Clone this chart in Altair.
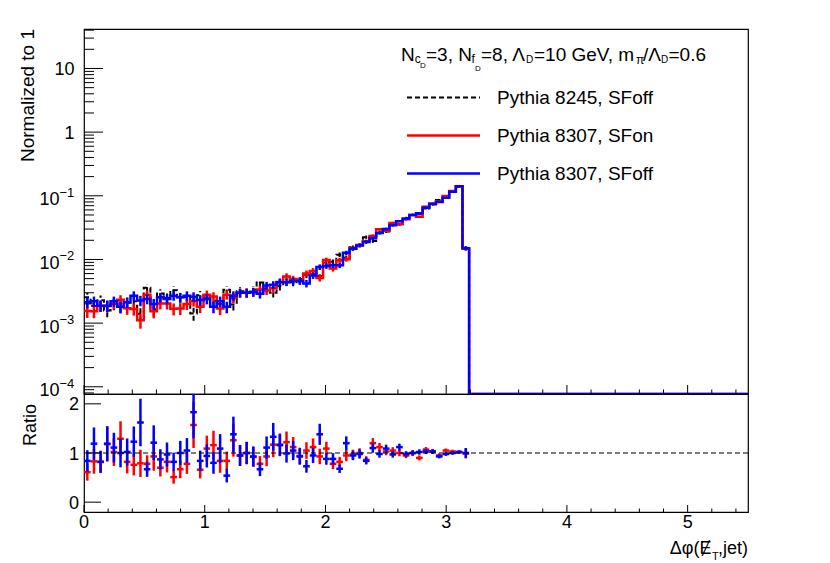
import altair as alt
import numpy as np
import pandas as pd

# ---------------- data ----------------
X_MIN, X_MAX = 0.0, 5.5
BIN_WIDTH = 0.055
N_EVENTS = 13000  # effective statistics used for Poisson error bars

# Pythia 8245, SFoff (black, dashed)
p8245_sfoff = [0.00254, 0.00185, 0.00229, 0.00158, 0.00198, 0.0018, 0.00209, 0.0022, 0.0014, 0.00358,
               0.00165, 0.00292, 0.00247, 0.00329, 0.00254, 0.00257, 0.00142, 0.00274, 0.00255, 0.00225,
               0.00202, 0.00333, 0.00196, 0.00316, 0.0030, 0.00333, 0.00433, 0.00351, 0.00301, 0.00379,
               0.00444, 0.00438, 0.00495, 0.00575, 0.00589, 0.00551, 0.00898, 0.0092, 0.0119, 0.0106,
               0.0155, 0.0168, 0.0224, 0.0195, 0.0265, 0.0275, 0.0356, 0.0357, 0.0449, 0.050,
               0.052, 0.0631, 0.0728, 0.086, 0.0949, 0.116, 0.138, 0.015]
# Pythia 8307, SFon (red)
p8307_sfon = [0.00155, 0.00154, 0.00188, 0.00186, 0.00202, 0.00232, 0.00171, 0.00167, 0.00111, 0.00279,
              0.00153, 0.00204, 0.00203, 0.00168, 0.0017, 0.0020, 0.00223, 0.00181, 0.00278, 0.00261,
              0.0017, 0.0028, 0.00247, 0.0030, 0.0030, 0.00306, 0.00338, 0.00326, 0.00352, 0.00443,
              0.00542, 0.00491, 0.00465, 0.00604, 0.0066, 0.00512, 0.00979, 0.00718, 0.00976, 0.0101,
              0.015, 0.0168, 0.0193, 0.0234, 0.0297, 0.0283, 0.0374, 0.0357, 0.0427, 0.050,
              0.0468, 0.0675, 0.075, 0.0817, 0.0996, 0.119, 0.141, 0.0149]
# Pythia 8307, SFoff (blue)
p8307_sfoff = [0.00213, 0.0022, 0.00188, 0.00188, 0.0022, 0.0018, 0.00213, 0.0027, 0.00226, 0.0024,
               0.0020, 0.00254, 0.0024, 0.0027, 0.00254, 0.0027, 0.0026, 0.0023, 0.0024, 0.0018,
               0.0022, 0.0018, 0.0027, 0.0030, 0.0030, 0.0031, 0.0029, 0.0039, 0.0040, 0.0044,
               0.0044, 0.0046, 0.0046, 0.0042, 0.0056, 0.0076, 0.0079, 0.0081, 0.0081, 0.0127,
               0.0147, 0.0165, 0.0188, 0.0215, 0.026, 0.030, 0.0345, 0.040, 0.044, 0.050,
               0.053, 0.065, 0.075, 0.080, 0.093, 0.116, 0.141, 0.015]
# ratios to Pythia 8245, SFoff
ratio_sfon = [0.61, 0.83, 0.82, 1.18, 1.02, 1.29, 0.82, 0.76, 0.79, 0.78,
              0.93, 0.70, 0.82, 0.51, 0.67, 0.78, 1.57, 0.66, 1.09, 1.16,
              0.84, 0.84, 1.26, 0.95, 1.0, 0.92, 0.78, 0.93, 1.17, 1.17,
              1.22, 1.12, 0.94, 1.05, 1.12, 0.93, 1.09, 0.78, 0.82, 0.95,
              0.97, 1.0, 0.86, 1.2, 1.12, 1.03, 1.05, 1.0, 0.95, 1.0,
              0.9, 1.07, 1.03, 0.95, 1.05, 1.03, 1.02, 0.99]
ratio_sfoff = [0.84, 1.19, 0.82, 1.19, 1.11, 1.0, 1.02, 1.23, 1.62, 0.67,
               1.21, 0.87, 0.97, 0.82, 1.0, 1.05, 1.83, 0.84, 0.94, 0.80,
               1.09, 0.54, 1.38, 0.95, 1.0, 0.93, 0.67, 1.11, 1.33, 1.16,
               0.99, 1.05, 0.93, 0.73, 0.95, 1.38, 0.88, 0.88, 0.68, 1.2,
               0.95, 0.98, 0.84, 1.1, 0.98, 1.09, 0.97, 1.12, 0.98, 1.0,
               1.02, 1.03, 1.03, 0.93, 0.98, 1.0, 1.02, 1.0]

legend_labels = ["Pythia 8245, SFoff", "Pythia 8307, SFon", "Pythia 8307, SFoff"]
x_major = [0, 1, 2, 3, 4, 5]
y_major = [1e-4, 1e-3, 1e-2, 1e-1, 1, 10]
y_exp_labels = ["\u22124", "\u22123", "\u22122", "\u22121"]
r_major = [0, 1, 2]

# ---------------- layout / style ----------------
W, H_TOP, H_RAT = 664, 365, 118
OX, OY_TOP, OY_RAT = 83, 28, 393        # page position of panel origins
Y_DOMAIN = [7.7e-5, 41.7]
R_DOMAIN = [-0.2, 2.2]
FONT = "Liberation Sans"
RED, BLUE, BLACK = "#ff0000", "#0000ff", "#000000"
FLOOR = 1e-7  # empty bins (clamped to the bottom of the log axis)

xscale = alt.Scale(domain=[X_MIN, X_MAX], nice=False, zero=False)
yscale = alt.Scale(type="log", domain=Y_DOMAIN, nice=False, clamp=True)
rscale = alt.Scale(domain=R_DOMAIN, nice=False, zero=False)
ONE = pd.DataFrame({"k": [0]})


def X(f):
    return alt.X(f, type="quantitative", scale=xscale, axis=None)


def Y(f):
    return alt.Y(f, type="quantitative", scale=yscale, axis=None)


def R(f):
    return alt.Y(f, type="quantitative", scale=rscale, axis=None)


def text(t, px, py, oy, size=18, align="left", baseline="alphabetic", angle=0, font=FONT):
    return alt.Chart(ONE).mark_text(
        text=t, align=align, baseline=baseline, fontSize=size, font=font,
        angle=angle, color=BLACK
    ).encode(x=alt.value(px - OX), y=alt.value(py - oy))


centers = [X_MIN + (i + 0.5) * BIN_WIDTH for i in range(len(p8245_sfoff))]


def step_df(vals):
    xs, ys = [], []
    for i, v in enumerate(vals):
        lo = X_MIN + i * BIN_WIDTH
        xs += [lo, lo + BIN_WIDTH]
        ys += [v, v]
    end = X_MIN + len(vals) * BIN_WIDTH
    xs += [end, X_MAX]
    ys += [FLOOR, FLOOR]
    return pd.DataFrame({"x": xs, "y": ys, "o": list(range(len(xs)))})


def err_df(vals):
    v = np.array(vals)
    e = np.sqrt(v / N_EVENTS)
    return pd.DataFrame({"x": centers, "lo": v - e, "hi": v + e})


def hist_layers(vals, color, dash=None, width=2.5):
    kw = {"strokeDash": dash} if dash else {}
    line = alt.Chart(step_df(vals)).mark_line(
        color=color, strokeWidth=width, clip=True, **kw
    ).encode(x=X("x"), y=Y("y"), order="o:Q")
    err = alt.Chart(err_df(vals)).mark_rule(
        color=color, strokeWidth=width, clip=True, **kw
    ).encode(x=X("x"), y=Y("lo"), y2=alt.Y2("hi"))
    return [line, err]


def ratio_layers(num, den, ratio, color):
    num, den, r = np.array(num), np.array(den), np.array(ratio)
    e = r * np.sqrt(1.0 / (num * N_EVENTS) + 1.0 / (den * N_EVENTS))
    c = np.array(centers)
    df = pd.DataFrame({"c": c, "l": c - BIN_WIDTH / 2, "h": c + BIN_WIDTH / 2,
                       "r": r, "lo": r - e, "hi": r + e})
    vbar = alt.Chart(df).mark_rule(color=color, strokeWidth=2.5, clip=True).encode(
        x=X("c"), y=R("lo"), y2=alt.Y2("hi"))
    hbar = alt.Chart(df).mark_rule(color=color, strokeWidth=2.5, clip=True).encode(
        x=X("l"), x2=alt.X2("h"), y=R("r"))
    return [vbar, hbar]


# ---------------- ticks ----------------
x_minor = [round(v, 1) for v in np.arange(0.2, 5.5, 0.2) if abs(v - round(v)) > 1e-6]
y_minor = [m * 10.0 ** k for k in range(-5, 2) for m in range(2, 10)
           if Y_DOMAIN[0] <= m * 10.0 ** k <= Y_DOMAIN[1]]

top_ticks = [
    alt.Chart(pd.DataFrame({"v": y_major})).mark_rule(color=BLACK, strokeWidth=1).encode(
        y=Y("v"), x=alt.value(0), x2=alt.value(19)),
    alt.Chart(pd.DataFrame({"v": y_minor})).mark_rule(color=BLACK, strokeWidth=1).encode(
        y=Y("v"), x=alt.value(0), x2=alt.value(10)),
    alt.Chart(pd.DataFrame({"v": x_major})).mark_rule(color=BLACK, strokeWidth=1).encode(
        x=X("v"), y=alt.value(H_TOP), y2=alt.value(H_TOP - 9)),
    alt.Chart(pd.DataFrame({"v": x_minor})).mark_rule(color=BLACK, strokeWidth=1).encode(
        x=X("v"), y=alt.value(H_TOP), y2=alt.value(H_TOP - 4.5)),
]

# y tick labels (top)
plain = pd.DataFrame({"v": [10, 1], "t": ["10", "1"]})
expo = pd.DataFrame({"v": y_major[:4], "t": y_exp_labels})
top_labels = [
    alt.Chart(plain).mark_text(align="right", baseline="alphabetic", fontSize=18, font=FONT,
                               dy=6.5, color=BLACK).encode(
        y=Y("v"), x=alt.value(-9.5), text="t:N"),
    alt.Chart(expo).mark_text(align="right", baseline="alphabetic", fontSize=18, font=FONT,
                              dy=9.5, color=BLACK, text="10").encode(
        y=Y("v"), x=alt.value(-24.5)),
    alt.Chart(expo).mark_text(align="left", baseline="alphabetic", fontSize=13, font=FONT,
                              dy=1, color=BLACK).encode(
        y=Y("v"), x=alt.value(-24.5), text="t:N"),
    text("Normalized to 1", 33, OY_TOP, OY_TOP, size=19, align="right", angle=270),
]

# legend
legend = []
leg_y = [96.5, 134.5, 172.5]
leg_col = [BLACK, RED, BLUE]
for lab, yy, col in zip(legend_labels, leg_y, leg_col):
    kw = {"strokeDash": [5, 3], "strokeWidth": 2} if col == BLACK else {"strokeWidth": 2.5}
    legend.append(alt.Chart(ONE).mark_rule(color=col, **kw).encode(
        x=alt.value(406 - OX), x2=alt.value(479 - OX), y=alt.value(yy - OY_TOP)))
    legend.append(text(lab, 496, yy, OY_TOP, size=19, baseline="middle"))

# header  N_{c_D}=3, N_{f_D}=8, Λ_D=10 GeV, m_π/Λ_D=0.6
B = 59.5
header_parts = [
    ("N", 400, B, 19), ("c", 413.7, B + 2, 12), ("D", 419, B + 7, 8),
    ("=3, N", 425, B, 19), ("f", 470.5, B + 2, 12), ("D", 474, B + 10, 8),
    ("=8, \u039b", 480, B, 19), ("D", 525, B + 2.5, 10),
    ("=10 GeV, m", 533, B, 19), ("\u03c0", 635, B + 3, 12),
    ("/\u039b", 642, B, 19), ("D", 660, B + 2.5, 10), ("=0.6", 667.5, B, 19),
]
header = [text(t, px, py, OY_TOP, size=s) for t, px, py, s in header_parts]

top = alt.layer(
    *hist_layers(p8245_sfoff, BLACK, dash=[5, 3], width=2),
    *hist_layers(p8307_sfon, RED),
    *hist_layers(p8307_sfoff, BLUE),
    *top_ticks, *top_labels, *legend, *header,
).properties(width=W, height=H_TOP)

# ---------------- ratio panel ----------------
rat_ticks = [
    alt.Chart(pd.DataFrame({"v": r_major})).mark_rule(color=BLACK, strokeWidth=1).encode(
        y=R("v"), x=alt.value(0), x2=alt.value(17)),
    alt.Chart(pd.DataFrame({"v": x_major})).mark_rule(color=BLACK, strokeWidth=1).encode(
        x=X("v"), y=alt.value(H_RAT), y2=alt.value(H_RAT - 7)),
    alt.Chart(pd.DataFrame({"v": x_minor})).mark_rule(color=BLACK, strokeWidth=1).encode(
        x=X("v"), y=alt.value(H_RAT), y2=alt.value(H_RAT - 3.5)),
]
rat_labels = [
    alt.Chart(pd.DataFrame({"v": r_major, "t": [str(v) for v in r_major]})).mark_text(
        align="right", baseline="alphabetic", fontSize=18, font=FONT, dy=6.5, color=BLACK
    ).encode(y=R("v"), x=alt.value(-5), text="t:N"),
    alt.Chart(pd.DataFrame({"v": x_major, "t": [str(v) for v in x_major]})).mark_text(
        align="center", baseline="alphabetic", fontSize=18, font=FONT, color=BLACK
    ).encode(x=X("v"), y=alt.value(527 - OY_RAT), text="t:N"),
    text("Ratio", 35, 403, OY_RAT, size=18, align="right", angle=270),
    # x title: Δφ(E̸_T,jet)  (E with stroke = missing transverse energy)
    text("\u0394\u03c6(\u0246", 710.5, 553, OY_RAT, size=18, align="right",
         font="Liberation Sans, DejaVu Sans"),
    text("T", 711, 559, OY_RAT, size=11, align="left"),
    text(",jet)", 747, 553, OY_RAT, size=18, align="right"),
]
unity = alt.Chart(pd.DataFrame({"r": [1.0]})).mark_rule(
    color=BLACK, strokeDash=[5, 3], strokeWidth=1.2).encode(y=R("r"))

ratio = alt.layer(
    *ratio_layers(p8307_sfon, p8245_sfoff, ratio_sfon, RED),
    *ratio_layers(p8307_sfoff, p8245_sfoff, ratio_sfoff, BLUE),
    unity, *rat_ticks, *rat_labels,
).properties(width=W, height=H_RAT)

chart = alt.vconcat(top, ratio, spacing=0, bounds="flush").properties(
    padding={"left": 10, "top": 20, "right": 5, "bottom": 0},
    background="white",
).configure_view(stroke=BLACK, strokeWidth=1.2)

chart.save("out.html", embed_options={"renderer": "svg", "actions": False})
